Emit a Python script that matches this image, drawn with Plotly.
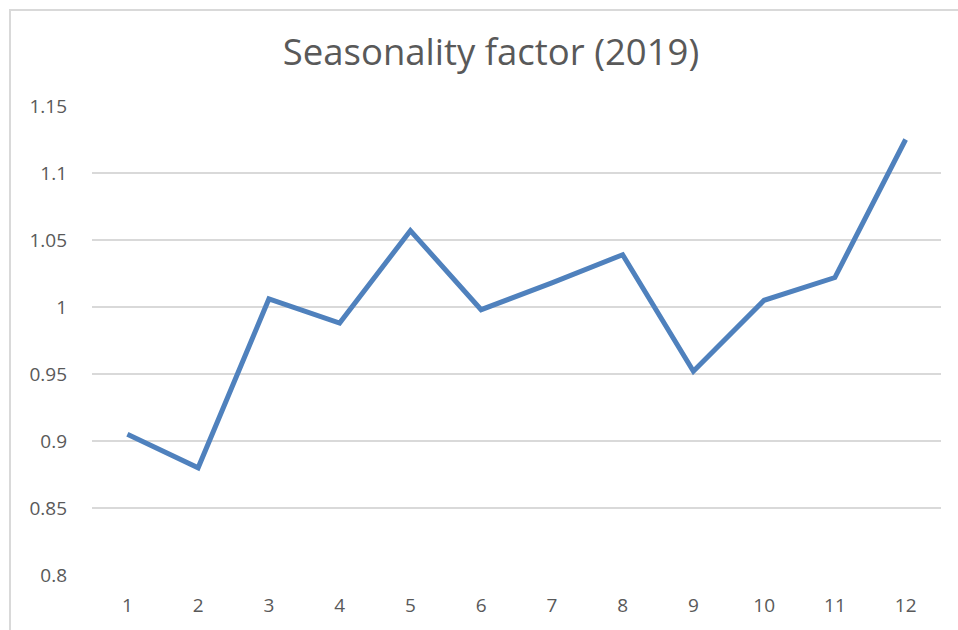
import plotly.graph_objects as go

months = [1, 2, 3, 4, 5, 6, 7, 8, 9, 10, 11, 12]
factors = [0.905, 0.880, 1.006, 0.988, 1.057, 0.998, 1.018, 1.039, 0.952, 1.005, 1.022, 1.125]
y_ticks = [0.8, 0.85, 0.9, 0.95, 1.0, 1.05, 1.1, 1.15]
y_tick_text = ["0.8", "0.85", "0.9", "0.95", "1", "1.05", "1.1", "1.15"]

FONT = "Open Sans, Noto Sans, sans-serif"
TXT = "#595959"

fig = go.Figure()
fig.add_trace(go.Scatter(
    x=months, y=factors, mode="lines",
    line=dict(color="#4F81BD", width=5),
    hoverinfo="x+y", showlegend=False,
))

fig.update_layout(
    width=958, height=630,
    paper_bgcolor="white", plot_bgcolor="white",
    margin=dict(l=92, r=17, t=106, b=55),
    title=dict(text="Seasonality factor (2019)", x=491 / 958, xanchor="center",
               xref="container", yref="container",
               y=1 - 52 / 630, yanchor="middle",
               font=dict(family=FONT, size=36.5, color=TXT)),
    xaxis=dict(range=[0.5, 12.5], tickvals=months, ticktext=[str(m) for m in months],
               showgrid=False, zeroline=False, showline=False, ticks="",
               tickfont=dict(family=FONT, size=19, color=TXT), ticklabelstandoff=17),
    yaxis=dict(range=[0.8, 1.15], tickvals=y_ticks, ticktext=y_tick_text,
               showgrid=True, gridcolor="#D9D9D9", gridwidth=2, zeroline=False,
               showline=False, ticks="",
               tickfont=dict(family=FONT, size=19, color=TXT), ticklabelstandoff=24),
    shapes=[dict(type="rect", xref="paper", yref="paper",
                 x0=(10 - 92) / 849, x1=1.2, y0=-0.3, y1=1 + 96 / 469,
                 line=dict(color="#D9D9D9", width=2), fillcolor="rgba(0,0,0,0)",
                 layer="below")],
)

fig.write_html("out.html", config={"displayModeBar": False},
               post_script="document.body.style.margin='0px';")
